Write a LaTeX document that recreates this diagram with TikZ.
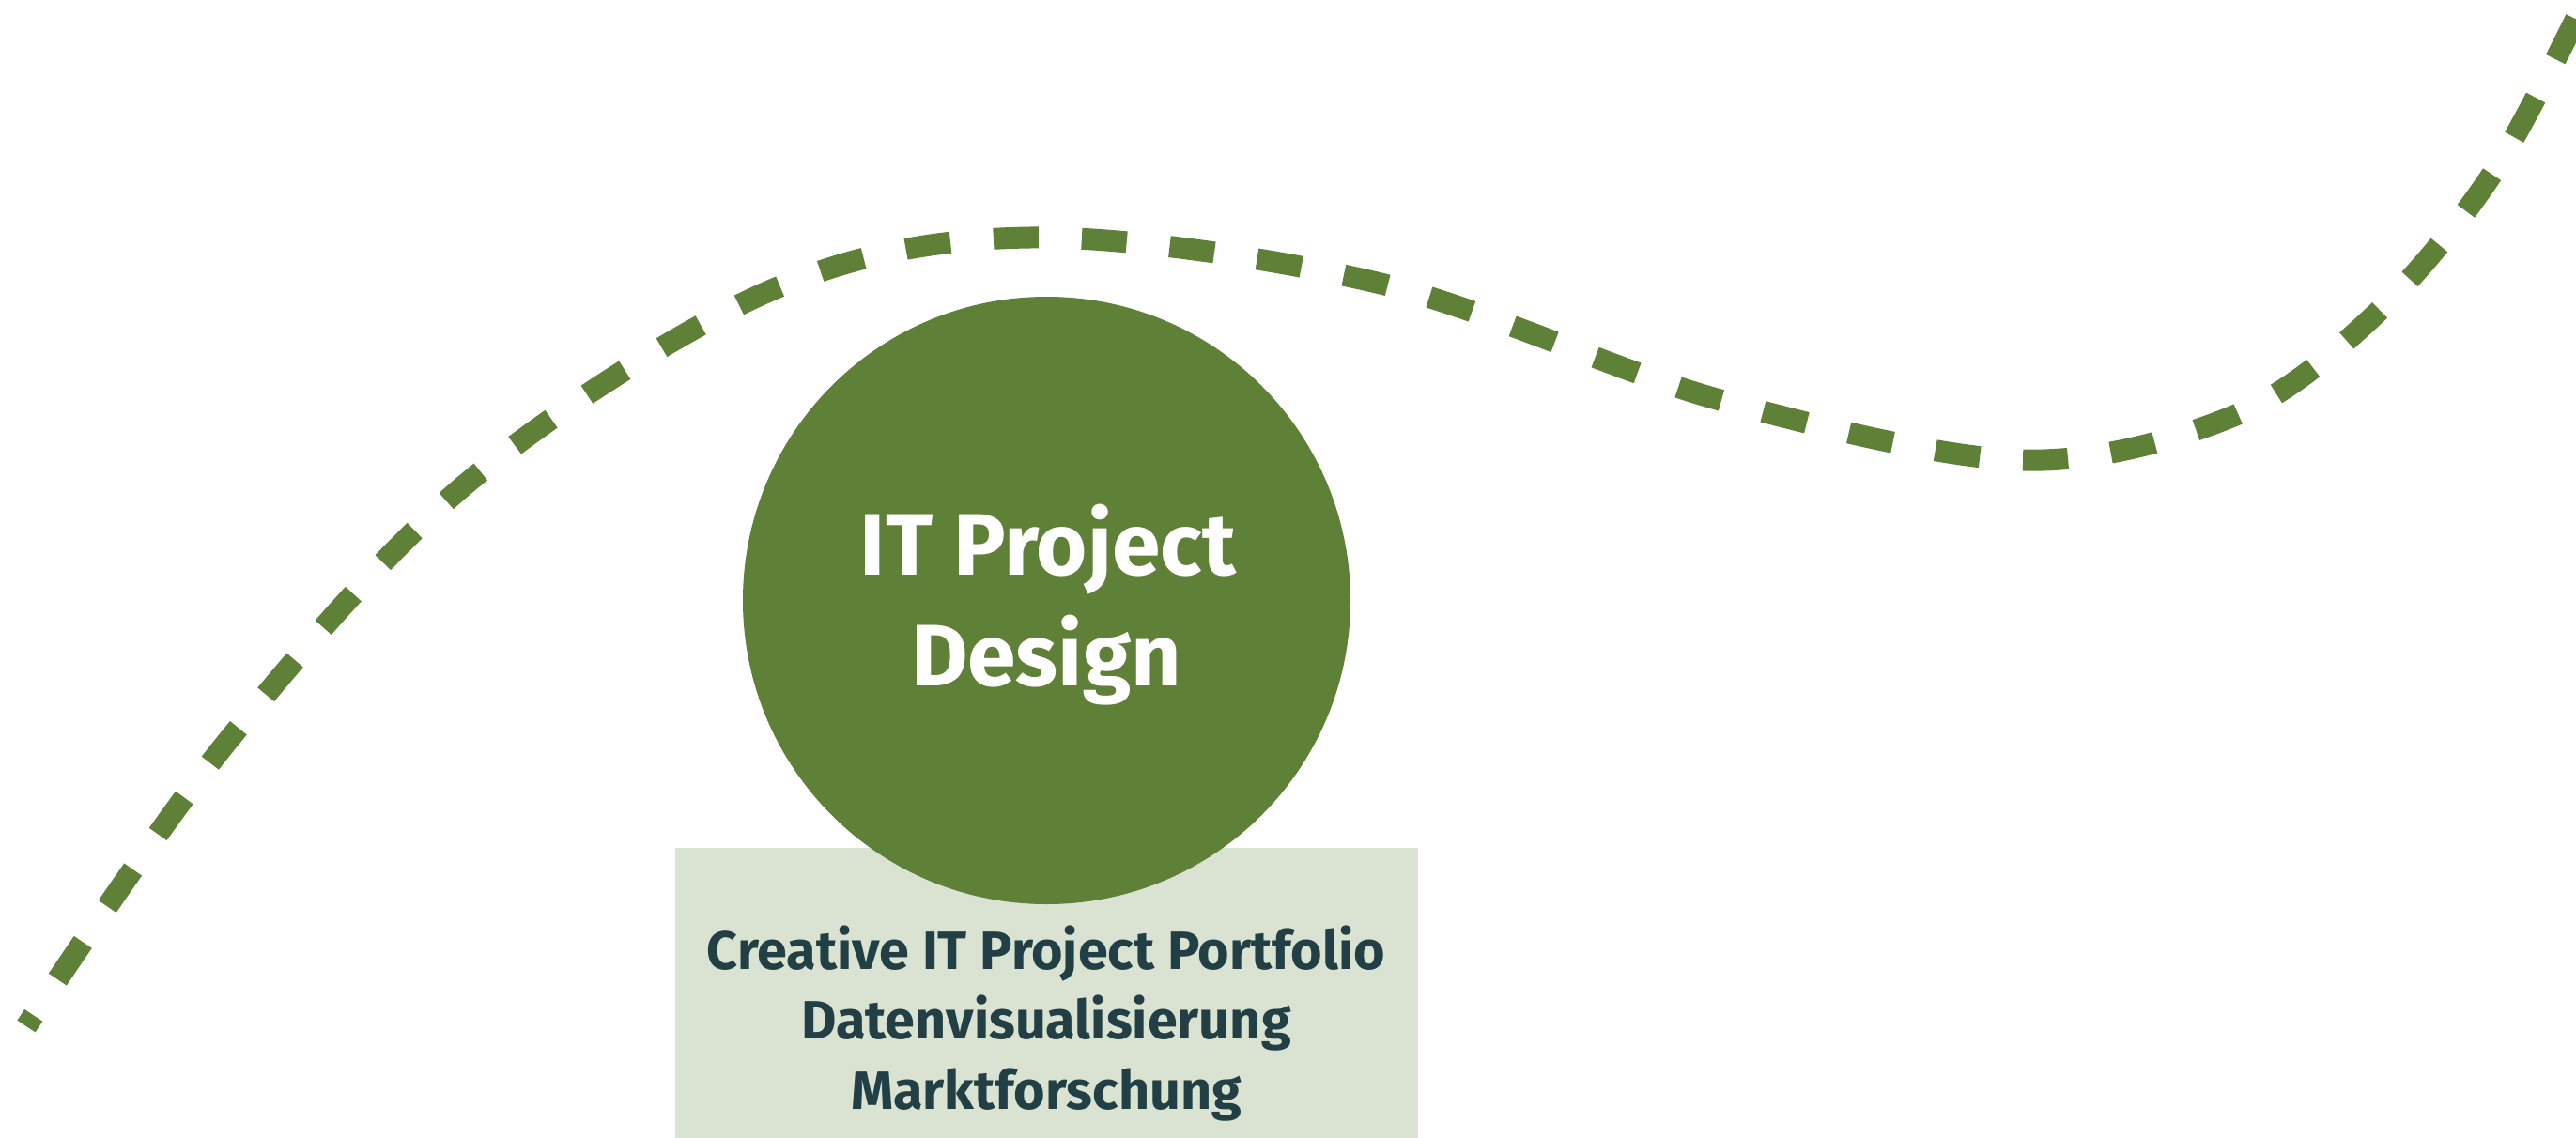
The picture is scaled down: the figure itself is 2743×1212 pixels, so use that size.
\documentclass[tikz,border=0pt]{standalone}
\usepackage{fontspec}
\setmainfont{Fira Sans}
\definecolor{leaf}{HTML}{5F8037}
\definecolor{sage}{HTML}{DAE3D1}
\definecolor{ink}{HTML}{223F45}
\tikzset{
  trail/.style={draw=leaf, line width=23pt, dash pattern=on 48pt off 46pt, dash phase=34pt},
  hub/.style={circle, fill=leaf, minimum size=647pt, inner sep=0pt},
  panel/.style={fill=sage, draw=none},
  titletext/.style={text=white, font=\bfseries\fontsize{93}{110}\selectfont, inner sep=0pt, anchor=base},
  itemtext/.style={text=ink, font=\bfseries\fontsize{57.5}{68}\selectfont, inner sep=0pt, anchor=base}
}
\begin{document}
\begin{tikzpicture}[x=1pt, y=-1pt]
  \useasboundingbox (0,0) rectangle (2743,1212);
  \begin{scope}
    \clip (0,0) rectangle (2743,1212);
    \draw[trail] plot[smooth, tension=0.55] coordinates {
      (28,1093) (241,791) (499,513) (819,310) (1097,253) (1466,301)
      (1828,425) (2150,490) (2376,444) (2526,338) (2654,185) (2760,-15)};
  \end{scope}
  \node[panel, minimum width=791pt, minimum height=309pt, inner sep=0pt, anchor=north west] (box) at (719,903) {};
  \node[hub] (hub) at (1114.5,639.5) {};
  \node[titletext] (t1) at (1116,612) {IT Project};
  \node[titletext] (t2) at (1114,730) {Design};
  \node[itemtext] (i1) at (1114,1032) {Creative IT Project Portfolio};
  \node[itemtext] (i2) at (1114,1106) {Datenvisualisierung};
  \node[itemtext] (i3) at (1114,1181) {Marktforschung};
\end{tikzpicture}
\end{document}
